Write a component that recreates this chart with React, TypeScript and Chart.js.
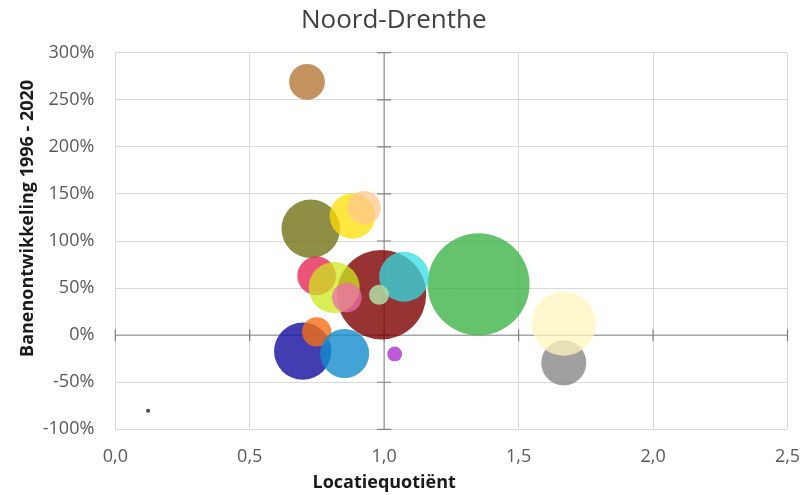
import React, { useEffect, useRef } from "react";
import { Chart, registerables } from "chart.js";

Chart.register(...registerables);

// Locatiequotiënt (x), banenontwikkeling 1996-2020 in % (y), bubble size (banen)
const locatiequotient = [0.99, 1.351, 1.074, 1.668, 1.668, 0.727, 0.882, 0.926, 0.749, 0.814, 0.861, 0.981, 0.697, 0.749, 0.853, 1.039, 0.713, 0.122];
const banenontwikkeling = [43, 54, 62, -29.4, 12.3, 113, 126.6, 135.5, 63, 50.5, 40, 42.8, -17, 3.5, -19.5, -19.9, 269, -80.4];
const banen = [2000, 2600, 620, 510, 1030, 860, 520, 275, 375, 650, 220, 100, 820, 215, 600, 55, 320, 4];
const bubbleColors = [
  "rgba(125,0,0,0.8)",
  "rgba(50,175,62,0.75)",
  "rgba(50,222,228,0.75)",
  "rgba(128,128,128,0.75)",
  "rgba(255,245,190,0.75)",
  "rgba(110,110,15,0.78)",
  "rgba(255,222,0,0.75)",
  "rgba(255,200,140,0.75)",
  "rgba(228,25,75,0.75)",
  "rgba(205,232,30,0.75)",
  "rgba(238,110,175,0.75)",
  "rgba(175,225,165,0.85)",
  "rgba(25,20,160,0.82)",
  "rgba(245,110,20,0.8)",
  "rgba(20,140,205,0.8)",
  "rgba(170,50,205,0.8)",
  "rgba(176,110,40,0.75)",
  "rgba(50,50,50,0.9)",
];
const xTicks = [0, 0.5, 1, 1.5, 2, 2.5];
const yTicks = [-100, -50, 0, 50, 100, 150, 200, 250, 300];
const xTitle = "Locatiequotiënt";
const yTitle = "Banenontwikkeling 1996 - 2020";

const MAX_R = 51;
const FONT = "'Segoe UI', 'Open Sans', 'Noto Sans', sans-serif";

const crossAxesPlugin = {
  id: "crossAxes",
  beforeDatasetsDraw(chart: any) {
    const { ctx, chartArea, scales } = chart;
    const xs = scales.x;
    const ys = scales.y;
    const y0 = ys.getPixelForValue(0);
    const x1 = xs.getPixelForValue(1);
    ctx.save();
    ctx.strokeStyle = "#a6a6a6";
    ctx.lineWidth = 1.5;
    ctx.beginPath();
    ctx.moveTo(chartArea.left, y0);
    ctx.lineTo(chartArea.right, y0);
    ctx.moveTo(x1, chartArea.top);
    ctx.lineTo(x1, chartArea.bottom);
    ctx.stroke();
    ctx.strokeStyle = "#808080";
    ctx.lineWidth = 1.2;
    ctx.beginPath();
    xTicks.forEach((v) => {
      const px = xs.getPixelForValue(v);
      ctx.moveTo(px, y0 - 6);
      ctx.lineTo(px, y0 + 6);
    });
    yTicks.forEach((v) => {
      const py = ys.getPixelForValue(v);
      ctx.moveTo(x1 - 7, py);
      ctx.lineTo(x1 + 7, py);
    });
    ctx.stroke();
    ctx.restore();
  },
  afterDraw(chart: any) {
    const { ctx, chartArea } = chart;
    const w = chartArea.right - chartArea.left;
    const h = chartArea.bottom - chartArea.top;
    ctx.save();
    ctx.font = `bold 18px ${FONT}`;
    ctx.fillStyle = "#1a1a1a";
    ctx.textAlign = "center";
    ctx.textBaseline = "middle";
    ctx.fillText(xTitle, chartArea.left + w * 0.4, chartArea.bottom + 54);
    ctx.translate(chartArea.left - 87, chartArea.top + h * 0.44);
    ctx.rotate(-Math.PI / 2);
    ctx.fillText(yTitle, 0, 0);
    ctx.restore();
  },
};

export default function App() {
  const canvasRef = useRef<HTMLCanvasElement | null>(null);

  useEffect(() => {
    if (!canvasRef.current) return;
    const maxSize = Math.max(...banen);
    const data = locatiequotient.map((x, i) => ({
      x,
      y: banenontwikkeling[i],
      r: MAX_R * Math.sqrt(banen[i] / maxSize),
    }));
    const chart = new Chart(canvasRef.current, {
      type: "bubble",
      data: {
        datasets: [
          {
            data,
            backgroundColor: bubbleColors,
            borderWidth: 0,
            hoverBorderWidth: 0,
          },
        ],
      },
      options: {
        animation: false,
        responsive: true,
        maintainAspectRatio: false,
        layout: { autoPadding: false, padding: { left: 0, right: 17.5, top: 0, bottom: 0 } },
        plugins: {
          legend: { display: false },
          tooltip: { enabled: false },
          title: {
            display: true,
            text: "Noord-Drenthe",
            color: "#404040",
            font: { family: FONT, size: 26, weight: "normal" },
            padding: { top: 5.4, bottom: 16.1 },
          },
        },
        scales: {
          x: {
            type: "linear",
            min: 0,
            max: 2.5,
            afterFit: (s: any) => {
              s.height = 65.7;
              s.paddingLeft = 0;
              s.paddingRight = 0;
            },
            afterBuildTicks: (s: any) => {
              s.ticks = xTicks.map((v) => ({ value: v }));
            },
            grid: { color: "#d9d9d9", lineWidth: 1, drawTicks: false },
            border: { display: false },
            ticks: {
              color: "#595959",
              font: { family: FONT, size: 18 },
              padding: 16.6,
              callback: (v: any) => Number(v).toFixed(1).replace(".", ","),
            },
            title: { display: false },
          },
          y: {
            type: "linear",
            min: -100,
            max: 300,
            afterFit: (s: any) => {
              s.width = 115.3;
              s.paddingTop = 0;
              s.paddingBottom = 0;
            },
            afterBuildTicks: (s: any) => {
              s.ticks = yTicks.map((v) => ({ value: v }));
            },
            grid: { color: "#d9d9d9", lineWidth: 1, drawTicks: false },
            border: { display: false },
            ticks: {
              color: "#595959",
              font: { family: FONT, size: 18 },
              padding: 21,
              callback: (v: any) => `${v}%`,
            },
            title: { display: false },
          },
        },
      },
      plugins: [crossAxesPlugin],
    });
    return () => chart.destroy();
  }, []);

  return (
    <div style={{ position: "fixed", left: 0, top: 0, width: 805, height: 495, background: "#fff" }}>
      <canvas ref={canvasRef} />
    </div>
  );
}
